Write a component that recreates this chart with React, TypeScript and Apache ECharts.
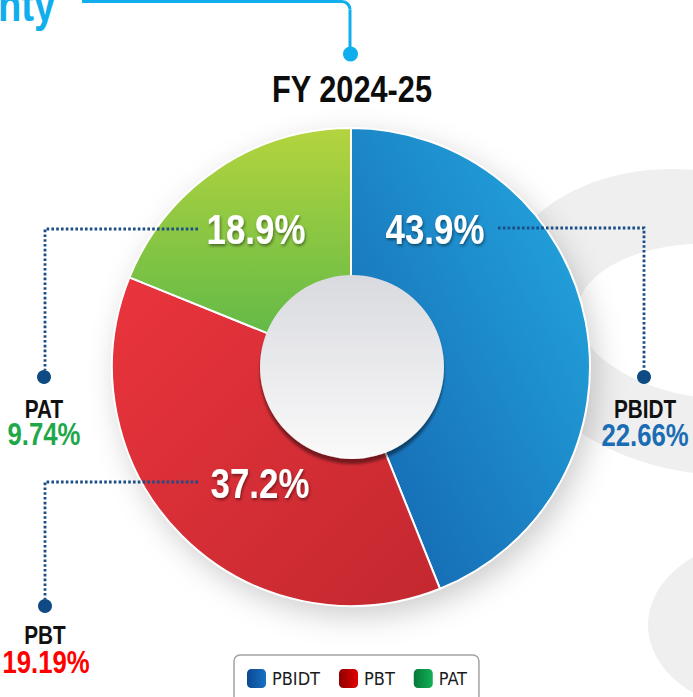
import React, { useEffect, useRef } from 'react';
import * as echarts from 'echarts';

// ---- data ----
const categories = ['PBIDT', 'PBT', 'PAT'];
const values = [22.66, 19.19, 9.74];
const valueLabels = ['22.66%', '19.19%', '9.74%'];
const chartTitle = 'FY 2024-25';
const headerText = 'nty';

// ---- styles / layout ----
const FONT = "'Liberation Sans', Arial, sans-serif";
const LEGEND_FONT = "'DejaVu Sans Condensed', 'Liberation Sans', sans-serif";
const NARROW = 0.83;
const CENTER: [number, number] = [351, 367];
const R_OUT = 239;
const R_IN = 92;

const lg = (a: string, b: string, x2 = 1, y2 = 0, x1 = 0, y1 = 0) =>
  new echarts.graphic.LinearGradient(x1, y1, x2, y2, [
    { offset: 0, color: a },
    { offset: 1, color: b },
  ]);

const sliceColors = [
  () => lg('#1462ad', '#24abe2', 1, 0, 0, 1),
  () => lg('#ea343d', '#c3282f', 1, 1, 0, 0),
  () => lg('#b4d43e', '#56b649', 0, 1, 0, 0),
];
const legendColors = [
  () => lg('#0a4690', '#1a72c4'),
  () => lg('#8a0000', '#e60000'),
  () => lg('#067638', '#12b457'),
];
const valueColors = ['#1a6cb4', '#ff0000', '#1fa84a'];

const insidePos: [number, number][] = [
  [435, 229],
  [260, 483],
  [256, 229],
];
const leaderPts: number[][][] = [
  [[498, 228], [644, 228], [644, 370]],
  [[198, 482], [45, 482], [45, 599]],
  [[198, 229], [45, 229], [45, 370]],
];
const dotPos: [number, number][] = [
  [644, 377],
  [45, 606],
  [44, 377],
];
const namePos: [number, number][] = [
  [645, 409],
  [45, 635],
  [44, 409],
];
const valuePos: [number, number][] = [
  [645, 435],
  [46, 662],
  [44, 434],
];

const narrowText = (x: number, y: number, text: string, fill: string, fontSize: number, extra: any = {}) => ({
  type: 'text', x, y, z: 10, scaleX: NARROW, silent: true,
  style: {
    text, fill, fontFamily: FONT, fontWeight: 'bold', fontSize,
    textAlign: 'center', textVerticalAlign: 'middle', ...extra,
  },
});

export default function App() {
  const ref = useRef<HTMLDivElement>(null);
  useEffect(() => {
    if (!ref.current) return;
    const chart = echarts.init(ref.current, undefined, { renderer: 'svg' });
    const total = values.reduce((s, v) => s + v, 0);
    const shares = values.map((v) => ((v / total) * 100).toFixed(1) + '%');

    const graphics: any[] = [];
    // background swoosh
    graphics.push(
      {
        type: 'ellipse', x: 700, y: 322, rotation: -0.22, z: 0, silent: true,
        shape: { cx: 0, cy: 0, rx: 205, ry: 150 },
        style: { fill: '#efefef' },
      },
      {
        type: 'ellipse', x: 725, y: 322, rotation: -0.08, z: 0, silent: true,
        shape: { cx: 0, cy: 0, rx: 148, ry: 78 },
        style: { fill: '#ffffff' },
      },
      {
        type: 'ellipse', x: 772, y: 625, z: 0, silent: true,
        shape: { cx: 0, cy: 0, rx: 124, ry: 88 },
        style: { fill: '#efefef' },
      }
    );
    // header
    graphics.push(
      { ...narrowText(-2, 5, headerText, '#10aeec', 46), style: { ...narrowText(0, 0, headerText, '#10aeec', 46).style, textAlign: 'left' } },
      {
        type: 'polyline', z: 10,
        shape: { points: [[82, 1.5], [342, 1.5]] },
        style: { stroke: '#10aeec', lineWidth: 3, fill: null },
      },
      {
        type: 'arc', z: 10,
        shape: { cx: 342, cy: 9.5, r: 8, startAngle: -Math.PI / 2, endAngle: 0, clockwise: true },
        style: { stroke: '#10aeec', lineWidth: 3, fill: null },
      },
      {
        type: 'line', z: 10,
        shape: { x1: 350, y1: 9.5, x2: 350, y2: 50 },
        style: { stroke: '#10aeec', lineWidth: 3 },
      },
      {
        type: 'circle', z: 10,
        shape: { cx: 350.5, cy: 54, r: 7.5 },
        style: { fill: '#10aeec' },
      },
      narrowText(352, 89, chartTitle, '#0d0d0d', 37)
    );
    categories.forEach((name, i) => {
      graphics.push(
        {
          type: 'polyline', z: 10,
          shape: { points: leaderPts[i] },
          style: { stroke: '#1b4d86', lineWidth: 2.8, lineDash: [2.6, 2.2], fill: null },
        },
        {
          type: 'circle', z: 10,
          shape: { cx: dotPos[i][0], cy: dotPos[i][1], r: 7 },
          style: { fill: '#0f4a85' },
        },
        narrowText(namePos[i][0], namePos[i][1], name, '#111111', 25),
        narrowText(valuePos[i][0], valuePos[i][1], valueLabels[i], valueColors[i], 31),
        narrowText(insidePos[i][0], insidePos[i][1], shares[i], '#ffffff', 42, {
          textShadowColor: 'rgba(0,0,0,0.45)', textShadowBlur: 3,
          textShadowOffsetX: 1, textShadowOffsetY: 2,
        })
      );
    });

    chart.setOption({
      animation: false,
      backgroundColor: '#ffffff',
      legend: {
        left: 234,
        top: 655,
        orient: 'horizontal',
        selectedMode: false,
        data: categories.map((n, i) => ({ name: n, itemStyle: { color: legendColors[i]() } })),
        icon: 'roundRect',
        itemWidth: 21,
        itemHeight: 21,
        itemGap: 17,
        padding: [12, 12, 12, 11],
        borderColor: '#a3a3a3',
        borderWidth: 1.5,
        borderRadius: 6,
        backgroundColor: '#ffffff',
        textStyle: { fontFamily: LEGEND_FONT, fontSize: 18, color: '#1a1a1a' },
      },
      graphic: { elements: graphics },
      series: [
        {
          type: 'pie', name: 'shadow', center: CENTER, radius: [0, R_OUT], z: 1,
          silent: true, label: { show: false }, labelLine: { show: false },
          emphasis: { disabled: true },
          data: [{ name: '_bg', value: 1, itemStyle: {
            color: '#ffffff', shadowBlur: 30, shadowOffsetX: 6, shadowOffsetY: 10,
            shadowColor: 'rgba(0,0,0,0.2)',
          } }],
        },
        {
          type: 'pie', name: 'Profit', center: CENTER, radius: [0, R_OUT], z: 2,
          startAngle: 90, clockwise: true, silent: true,
          label: { show: false }, labelLine: { show: false },
          emphasis: { disabled: true },
          itemStyle: { borderColor: '#ffffff', borderWidth: 2 },
          data: categories.map((n, i) => ({
            name: n, value: values[i], itemStyle: { color: sliceColors[i]() },
          })),
        },
        {
          type: 'pie', name: 'hole', center: [352, 367], radius: [0, R_IN], z: 3,
          silent: true, label: { show: false }, labelLine: { show: false },
          emphasis: { disabled: true },
          data: [{ name: '_hole', value: 1, itemStyle: {
            color: lg('#d9dadf', '#fafafa', 0, 1, 0, 0),
            shadowBlur: 3, shadowOffsetY: 5, shadowColor: 'rgba(0,0,0,0.45)',
          } }],
        },
      ],
    });
    return () => chart.dispose();
  }, []);
  return (
    <div
      ref={ref}
      style={{ position: 'fixed', left: 0, top: 0, width: 693, height: 697, background: '#fff' }}
    />
  );
}
